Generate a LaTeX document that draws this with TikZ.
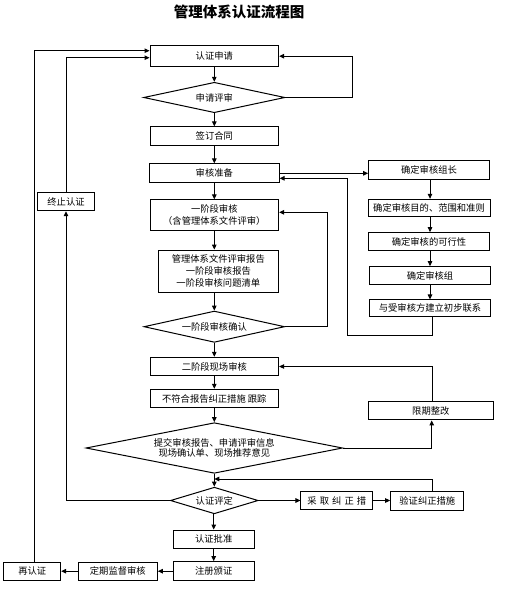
\documentclass[tikz,border=0pt]{standalone}
\usepackage{fontspec}
\setmainfont{Noto Sans CJK SC}
\usetikzlibrary{shapes.geometric,arrows.meta}
\begin{document}
\begin{tikzpicture}[x=1pt,y=-1pt,
  every node/.style={font=\fontsize{9.3}{12}\selectfont, inner sep=0pt, align=center},
  bx/.style 2 args={draw, line width=1pt, minimum width=#1, minimum height=#2},
  dia/.style n args={3}{shape=diamond, draw, line width=1pt, minimum width=#1, minimum height=#2, aspect=#3},
  arr/.style={line width=1pt, -{Triangle[length=5pt,width=4.5pt]}}]
\useasboundingbox (0,0) rectangle (517,601);
\node[font=\fontsize{14.5}{16}\selectfont\bfseries] (title) at (239,12) {管理体系认证流程图};
% main column
\node[bx={128.6}{21}] (apply) at (214.3,56.2) {认证申请};
\node[dia={141.3}{30.4}{4.6}] (review) at (214.3,97.5) {申请评审};
\node[bx={128.6}{18.7}] (contract) at (214.3,136.3) {签订合同};
\node[bx={129.6}{18.7}] (prep) at (214.3,173.3) {审核准备};
\node[bx={128.6}{30.7}] (stage1) at (214.3,215.3) {一阶段审核\\（含管理体系文件评审）};
\node[bx={120}{42.3}] (reports) at (218.3,271.2) {管理体系文件评审报告\\一阶段审核报告\\一阶段审核问题清单};
\node[dia={140.7}{31.3}{4.5}] (s1ok) at (214.3,326.7) {一阶段审核确认};
\node[bx={128.6}{18.4}] (stage2) at (214.3,366.5) {二阶段现场审核};
\node[bx={128.3}{18.4}] (ncr) at (214.3,398.5) {不符合报告纠正措施\ 跟踪};
\node[dia={256.6}{50.6}{5.07}, font=\fontsize{9.3}{10.5}\selectfont] (submit) at (214.3,448) {提交审核报告、申请评审信息\\现场确认单、现场推荐意见};
\node[dia={87.7}{26.6}{3.3}] (decide) at (214.3,500.5) {认证评定};
\node[bx={80.6}{18.3}] (approve) at (213.7,539.2) {认证批准};
\node[bx={80.7}{19}] (register) at (213.7,571.2) {注册颁证};
\node[bx={79}{18.3}] (surv) at (117.8,571.2) {定期监督审核};
\node[bx={56.7}{18.3}] (recert) at (32.3,571.2) {再认证};
\node[bx={56.6}{18}] (term) at (66,201.7) {终止认证};
% side column
\node[bx={120.6}{18.6}] (leader) at (429,170) {确定审核组长};
\node[bx={122}{16.7}] (scope) at (429,207.7) {确定审核目的、范围和准则};
\node[bx={121}{18.3}] (feas) at (429,241.8) {确定审核的可行性};
\node[bx={121.4}{18.3}] (team) at (430,275.8) {确定审核组};
\node[bx={121.4}{16.7}] (contact) at (430,308.3) {与受审核方建立初步联系};
\node[bx={125}{18.3}] (rect) at (430.8,410.8) {限期整改};
\node[bx={71.7}{17.7}] (corr) at (336.8,500.5) {采\,\,取\,\,纠\,\,正\,\,措};
\node[bx={73.3}{19}] (verify) at (427.3,500.5) {验证纠正措施};
\coordinate (join) at (214.3,479);
% main vertical arrows
\draw[arr] (apply) -- (review);
\draw[arr] (review) -- (contract);
\draw[arr] (contract) -- (prep);
\draw[arr] (prep) -- (stage1);
\draw[arr] (stage1.south) -- (stage1.south |- reports.north);
\draw[arr] (s1ok.north |- reports.south) -- (s1ok.north);
\draw[arr] (s1ok) -- (stage2);
\draw[arr] (stage2) -- (ncr);
\draw[arr] (ncr) -- (submit);
\draw[arr] (submit) -- (decide);
\draw[arr] (decide.south -| approve.north) -- (approve.north);
\draw[arr] (approve) -- (register);
\draw[arr] (register) -- (surv);
\draw[arr] (surv) -- (recert);
% side column arrows
\draw[arr] (leader.south -| 430,0) -- (scope.north -| 430,0);
\draw[arr] (scope.south -| 430,0) -- (feas.north -| 430,0);
\draw[arr] (feas.south -| 430,0) -- (team.north -| 430,0);
\draw[arr] (team) -- (contact);
% loops
\draw[arr] (review.east) -- (352,97.5) |- (apply.east);
\draw[arr] (prep.east) -- (prep.east -| leader.west);
\draw[arr] ([xshift=2.3pt]contact.south) |- (347.7,335.7) |- (prep.east |- 0,178.3);
\draw[arr] (s1ok.east) -- (327.3,326.7) |- (stage1.east |- 0,212.3);
\draw[arr] ([xshift=1.9pt]rect.north) |- (stage2.east);
\draw[arr] (submit.east) -| ([xshift=0.9pt]rect.south);
\draw[arr] ([xshift=5pt]verify.north) |- (join);
\draw[arr] (decide.east) -- (corr.west);
\draw[arr] (corr) -- (verify);
\draw[arr] (decide.west) -| (term.south);
\draw[arr] (term.north) |- (apply.west |- 0,57.7);
\draw[arr] ([xshift=1.7pt]recert.north) |- (apply.west |- 0,50.7);
\end{tikzpicture}
\end{document}
